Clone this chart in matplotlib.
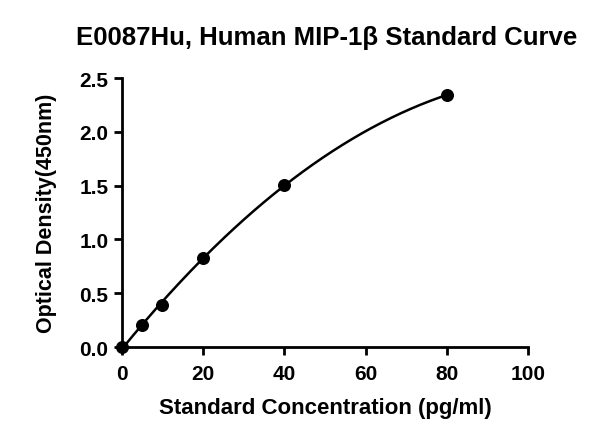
import numpy as np
import matplotlib
matplotlib.use("Agg")
import matplotlib.pyplot as plt

# standard points
conc = [0, 5, 10, 20, 40, 80]
od = [0.0, 0.21, 0.39, 0.83, 1.51, 2.34]

title = "E0087Hu, Human MIP-1\u03b2 Standard Curve"
xlabel = "Standard Concentration (pg/ml)"
ylabel = "Optical Density(450nm)"

plt.rcParams['font.family'] = ['Liberation Sans', 'DejaVu Sans']
plt.rcParams['font.weight'] = 'bold'

fig = plt.figure(figsize=(6, 4.39), dpi=100)
ax = fig.add_axes([0.203, 0.207, 0.677, 0.613])

# smooth fitted curve through the standards
coef = np.polyfit(conc, od, 2)
xs = np.linspace(0, 80, 200)
ax.plot(xs, np.polyval(coef, xs), color='black', lw=1.8, zorder=2)
ax.scatter(conc, od, s=70, color='black', zorder=3, clip_on=False)

ax.set_xlim(0, 100)
ax.set_ylim(0, 2.5)
ax.set_xticks([0, 20, 40, 60, 80, 100])
ax.set_yticks([0.0, 0.5, 1.0, 1.5, 2.0, 2.5])
ax.set_yticklabels(["0.0", "0.5", "1.0", "1.5", "2.0", "2.5"])

for s in ['top', 'right']:
    ax.spines[s].set_visible(False)
for s in ['left', 'bottom']:
    ax.spines[s].set_linewidth(2)
ax.tick_params(width=2, length=6, labelsize=15)
ax.tick_params(axis='x', pad=6)
for lab in ax.get_xticklabels() + ax.get_yticklabels():
    lab.set_fontweight('bold')

ax.set_xlabel(xlabel, fontsize=16, fontweight='bold', labelpad=10)
ax.set_ylabel(ylabel, fontsize=15.5, fontweight='bold', labelpad=16)
fig.suptitle(title, fontsize=18.5, fontweight='bold', x=0.545, y=0.94)

fig.savefig("out.png", dpi=100)
